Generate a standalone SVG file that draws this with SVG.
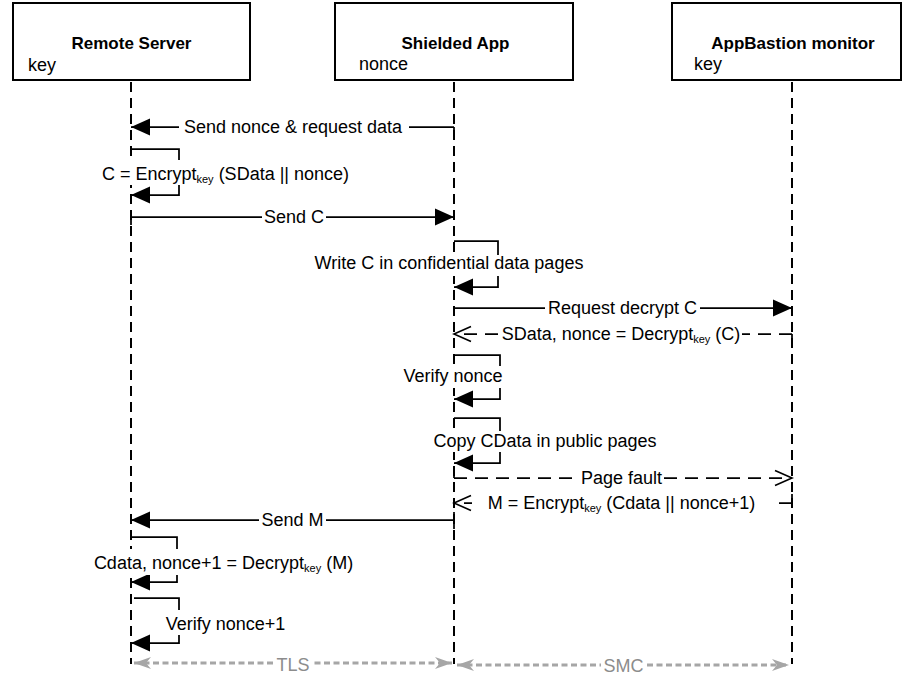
<svg xmlns="http://www.w3.org/2000/svg" width="902" height="676" viewBox="0 0 902 676">
<style>
.box{fill:#fff;stroke:#000;stroke-width:2}
.life{stroke:#000;stroke-width:2;stroke-dasharray:10 6;fill:none}
.msg{stroke:#000;stroke-width:1.75;fill:none}
.dash{stroke-dasharray:13 8}
.gray{stroke:#A6A6A6;stroke-width:3;stroke-dasharray:6 3.5;fill:none}
.bg{fill:#fff}
text{font-family:"Liberation Sans",Arial,sans-serif;font-size:18px;fill:#000}
.title{font-weight:bold;font-size:17px;text-anchor:middle}
.lbl{text-anchor:middle}
.sub{font-size:11px}
.gt{fill:#8C8C8C}
</style>
<defs>
<marker id="af" markerUnits="userSpaceOnUse" markerWidth="20" markerHeight="18" refX="19" refY="9" orient="auto"><path d="M0,0.5 L19,9 L0,17.5 Z" fill="#000"/></marker>
<marker id="ao" markerUnits="userSpaceOnUse" markerWidth="20" markerHeight="18" refX="18" refY="9" orient="auto"><path d="M1,1.5 L18,9 L1,16.5" fill="none" stroke="#000" stroke-width="1.6" stroke-dasharray="none"/></marker>
<marker id="ag" markerUnits="userSpaceOnUse" markerWidth="18" markerHeight="14" refX="17" refY="7" orient="auto-start-reverse"><path d="M17,7 L0,1 L5,7 L0,13 Z" fill="#A6A6A6"/></marker>
</defs>

<g id="remote-server">
<rect class="box" x="13" y="3" width="237" height="77"/>
<text class="title" x="131.5" y="49">Remote Server</text>
<text x="28" y="71">key</text>
<line class="life" x1="131" y1="82" x2="131" y2="664"/>
</g>
<g id="shielded-app">
<rect class="box" x="335" y="3" width="238" height="77"/>
<text class="title" x="455.5" y="49">Shielded App</text>
<text x="359" y="70">nonce</text>
<line class="life" x1="454" y1="82" x2="454" y2="664"/>
</g>
<g id="appbastion-monitor">
<rect class="box" x="672" y="3" width="229" height="77"/>
<text class="title" x="793" y="49">AppBastion monitor</text>
<text x="694" y="70">key</text>
<line class="life" x1="792" y1="82" x2="792" y2="664"/>
</g>

<g id="connectors">
<path class="msg" d="M454,127 H131" marker-end="url(#af)"/>
<line class="msg" x1="454" y1="127" x2="454" y2="135"/>
<path class="msg" d="M131,149 H179 V195 H131" marker-end="url(#af)"/>
<path class="msg" d="M131,217 H454" marker-end="url(#af)"/>
<line class="msg" x1="131" y1="217" x2="131" y2="225"/>
<path class="msg" d="M454,241 H498 V287 H454" marker-end="url(#af)"/>
<path class="msg" d="M454,308 H792" marker-end="url(#af)"/>
<line class="msg" x1="454" y1="308" x2="454" y2="316"/>
<path class="msg dash" d="M792,334 H454" marker-end="url(#ao)"/>
<line class="msg" x1="792" y1="334" x2="792" y2="342"/>
<path class="msg" d="M454,355 H500 V399 H454" marker-end="url(#af)"/>
<path class="msg" d="M454,418 H500 V463 H454" marker-end="url(#af)"/>
<path class="msg dash" d="M454,478 H792" marker-end="url(#ao)"/>
<line class="msg" x1="454" y1="478" x2="454" y2="467"/>
<path class="msg dash" d="M792,503 H454" marker-end="url(#ao)"/>
<line class="msg" x1="792" y1="503" x2="792" y2="494"/>
<path class="msg" d="M454,520 H131" marker-end="url(#af)"/>
<line class="msg" x1="454" y1="512" x2="454" y2="529"/>
<path class="msg" d="M131,537 H177 V582 H131" marker-end="url(#af)"/>
<path class="msg" d="M134,598 H179 V643 H131" marker-end="url(#af)"/>
<path class="gray" d="M134,663 H452" marker-start="url(#ag)" marker-end="url(#ag)"/>
<path class="gray" d="M457,665 H789" marker-start="url(#ag)" marker-end="url(#ag)"/>

<rect class="bg" x="179" y="118" width="230" height="19"/>
<rect class="bg" x="96" y="160" width="260" height="25"/>
<rect class="bg" x="262" y="208" width="64" height="19"/>
<rect class="bg" x="303" y="255" width="292" height="21"/>
<rect class="bg" x="545" y="299" width="155" height="18"/>
<rect class="bg" x="500" y="325" width="242" height="19"/>
<rect class="bg" x="399" y="366" width="108" height="22"/>
<rect class="bg" x="431" y="431" width="228" height="21"/>
<rect class="bg" x="580" y="469" width="83" height="18"/>
<rect class="bg" x="472" y="494" width="299" height="19"/>
<rect class="bg" x="259" y="511" width="67" height="18"/>
<rect class="bg" x="90" y="549" width="267" height="26"/>
<rect class="bg" x="162" y="610" width="127" height="25"/>
<rect class="bg" x="275" y="656" width="36" height="18"/>
<rect class="bg" x="601" y="657" width="45" height="18"/>

<text class="lbl" x="293" y="133">Send nonce &amp; request data</text>
<text class="lbl" x="225.5" y="180">C = Encrypt<tspan class="sub" dy="3">key</tspan><tspan dy="-3"> (SData || nonce)</tspan></text>
<text class="lbl" x="294" y="223">Send C</text>
<text class="lbl" x="449" y="269">Write C in confidential data pages</text>
<text class="lbl" x="622.5" y="314">Request decrypt C</text>
<text class="lbl" x="621" y="340">SData, nonce = Decrypt<tspan class="sub" dy="3">key</tspan><tspan dy="-3"> (C)</tspan></text>
<text class="lbl" x="453" y="382">Verify nonce</text>
<text class="lbl" x="545" y="447">Copy CData in public pages</text>
<text class="lbl" x="621.5" y="484">Page fault</text>
<text class="lbl" x="621.5" y="509">M = Encrypt<tspan class="sub" dy="3">key</tspan><tspan dy="-3"> (Cdata || nonce+1)</tspan></text>
<text class="lbl" x="292.5" y="526">Send M</text>
<text class="lbl" x="223.5" y="569">Cdata, nonce+1 = Decrypt<tspan class="sub" dy="3">key</tspan><tspan dy="-3"> (M)</tspan></text>
<text class="lbl" x="225.5" y="630">Verify nonce+1</text>
<text class="lbl gt" x="293" y="671">TLS</text>
<text class="lbl gt" x="623.5" y="672">SMC</text>
</g>
</svg>
